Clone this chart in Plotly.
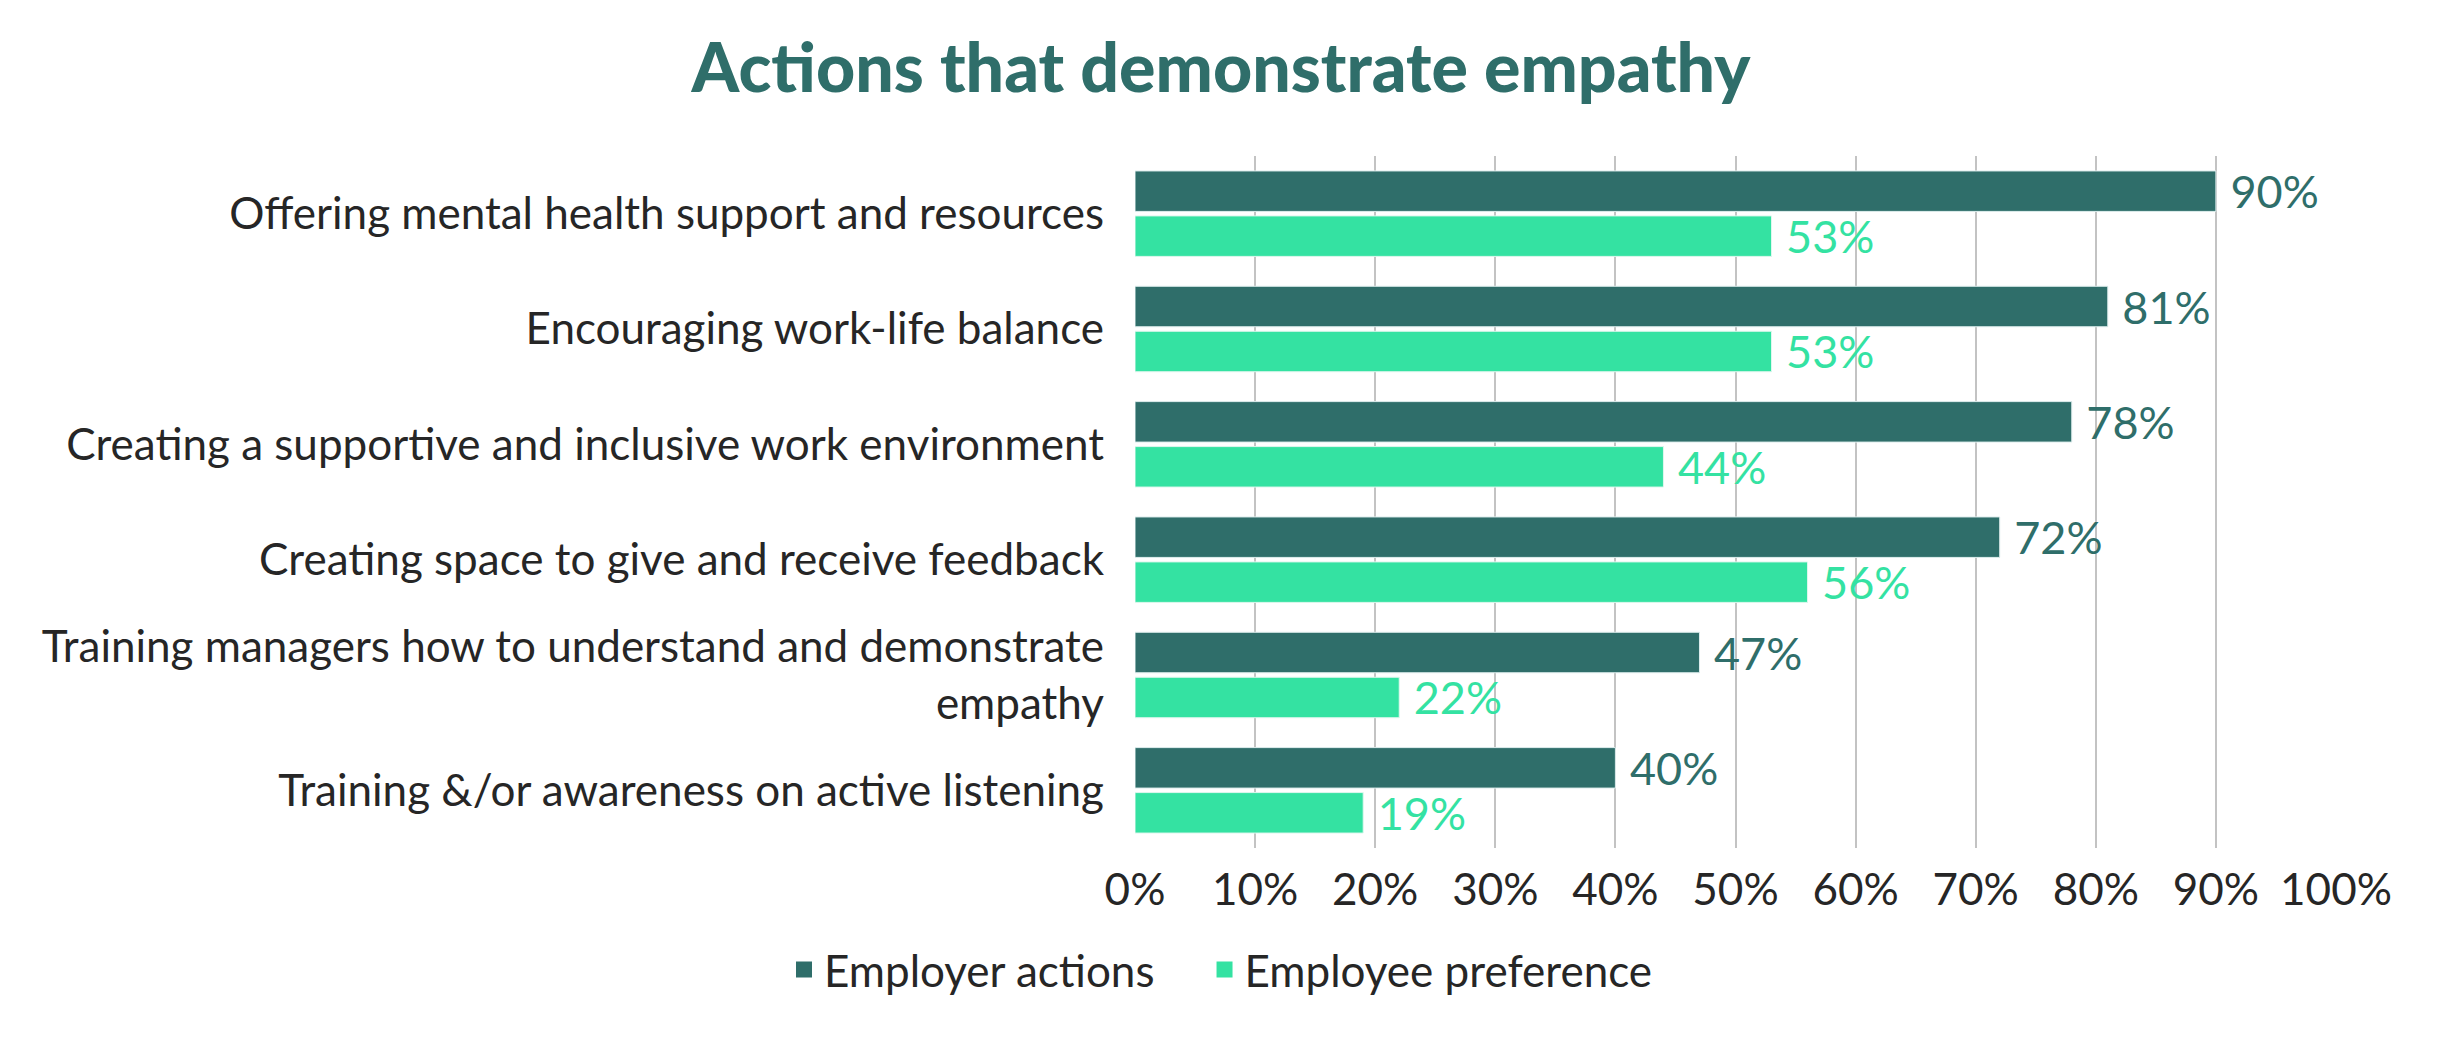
import plotly.graph_objects as go

categories = [
    "Offering mental health support and resources",
    "Encouraging work-life balance",
    "Creating a supportive and inclusive work environment",
    "Creating space to give and receive feedback",
    "Training managers how to understand and demonstrate<br>empathy",
    "Training &/or awareness on active listening",
]
employer_actions = [90, 81, 78, 72, 47, 40]
employee_preference = [53, 53, 44, 56, 22, 19]
tick_vals = [0, 10, 20, 30, 40, 50, 60, 70, 80, 90, 100]
tick_text = [f"{v}%" for v in tick_vals]

DARK = "#2f6e6a"
LIGHT = "#34e2a2"
TEXT = "#262626"
FONT = "Lato"

fig = go.Figure()
series = [("Employer actions", employer_actions, DARK, "#dfeeee", "\u00a0" * 4),
          ("Employee preference", employee_preference, LIGHT, "#dff7ee", "")]
for name, vals, col, edge, pad in series:
    fig.add_trace(go.Bar(
        name=name, y=categories, x=vals, orientation="h", showlegend=False,
        marker=dict(color=col, line=dict(color=edge, width=1)),
        text=[f" {v}%" for v in vals], textposition="outside", cliponaxis=False,
        constraintext="none",
        outsidetextfont=dict(color=col, size=45, family=FONT),
    ))
    # legend entry with a larger square symbol
    fig.add_trace(go.Scatter(
        name=name + pad, x=[None], y=[None], mode="markers",
        marker=dict(symbol="square", size=20, color=col), showlegend=True,
    ))

fig.update_layout(
    width=2442, height=1045,
    paper_bgcolor="white", plot_bgcolor="white",
    barmode="group", bargap=0.22, bargroupgap=0.1,
    margin=dict(l=1135, r=106, t=156, b=197),
    font=dict(family=FONT, color=TEXT, size=44),
    title=dict(text="Actions that demonstrate empathy", x=0.5, xanchor="center",
               y=1 - 68 / 1045, yanchor="middle",
               font=dict(family=FONT, size=68, color=DARK, weight=900)),
    xaxis=dict(range=[0, 100], tickvals=tick_vals, ticktext=tick_text,
               showgrid=True, gridcolor="#c3c3c3", gridwidth=2, zeroline=False,
               showline=False, ticks="", ticklabelstandoff=12,
               tickfont=dict(size=44, color=TEXT, family=FONT)),
    yaxis=dict(autorange="reversed", showgrid=False, showline=False, ticks="",
               ticklabelstandoff=30,
               tickfont=dict(size=44, color=TEXT, family=FONT)),
    legend=dict(orientation="h", xref="container", x=0.5, xanchor="center",
                yref="container", y=1 - 970 / 1045, yanchor="middle",
                traceorder="normal", font=dict(size=44, color=TEXT, family=FONT),
                itemwidth=30),
)

fig.write_html("out.html")
